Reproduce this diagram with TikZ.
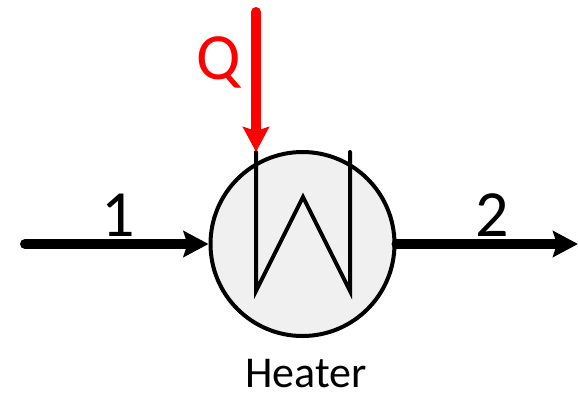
\documentclass[tikz,border=0pt]{standalone}
\usepackage{fontspec}
\setmainfont{Carlito}
\usetikzlibrary{arrows.meta}
\begin{document}
\begin{tikzpicture}[x=1pt,y=-1pt,
  flow/.style={line width=10pt,line cap=round,-{Stealth[length=25pt,width=26pt,inset=4pt]}},
  lab/.style={inner sep=0pt,font=\fontsize{66}{66}\selectfont},
  coil/.style={line width=4pt,line cap=round,line join=miter}]
\useasboundingbox (0,0) rectangle (578,392);
\node[circle,draw=black,fill=black!6,line width=4pt,minimum size=184pt,inner sep=0pt] (heater) at (302.5,244) {};
\coordinate (a) at (256,152);\coordinate (b) at (256,291);\coordinate (c) at (303,197);\coordinate (d) at (350,291);\coordinate (e) at (350,152);
\draw[coil] (a)--(b)--(c)--(d)--(e);
\coordinate (in) at (25,244);\coordinate (out) at (578,244);\coordinate (qs) at (256,12);
\draw[flow] (in)--(heater.west);
\draw[flow] (heater.east)--(out);
\draw[flow,red] (qs)--(a);
\node[lab] (l1) at (118,215) {1};
\node[lab] (l2) at (492,215) {2};
\node[lab,red] (q) at (219,62) {Q};
\node[inner sep=0pt,font=\fontsize{44}{44}\selectfont] (name) at (306,374) {Heater};
\end{tikzpicture}
\end{document}
